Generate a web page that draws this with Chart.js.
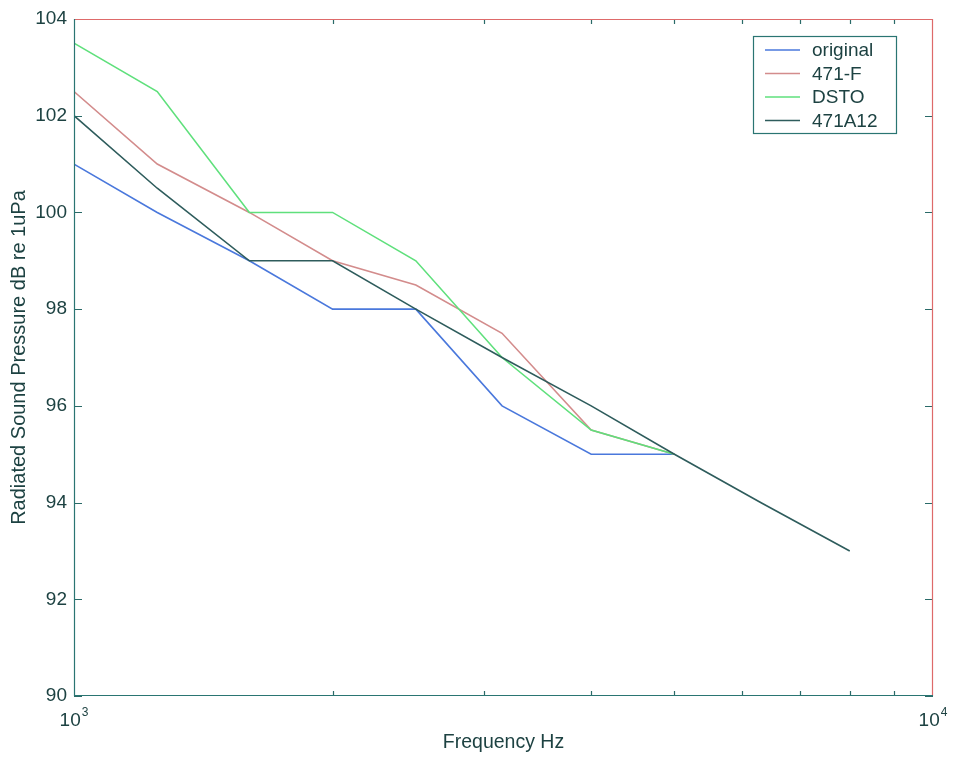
<!DOCTYPE html>
<html>
<head>
<meta charset="utf-8">
<script src="https://cdn.jsdelivr.net/npm/chart.js@4/dist/chart.umd.min.js"></script>
<style>
  html, body { margin: 0; padding: 0; background: #fff; }
  #wrap { width: 953px; height: 758px; }
</style>
</head>
<body>
<div id="wrap"><canvas id="chart" width="953" height="758"></canvas></div>
<script>
// 1/3 octave band centres (Hz)
const freqs = [1000, 1250, 1600, 2000, 2500, 3150, 4000, 5000, 6300, 8000];

// radiated sound pressure, dB re 1uPa
const original = [101, 100, 99, 98, 98, 96, 95, 95];
const f471 = [102.5, 101, 100, 99, 98.5, 97.5, 95.5, 95];
const dsto = [103.5, 102.5, 100, 100, 99, 97, 95.5, 95];
const a471 = [102, 100.5, 99, 99, 98, 97, 96, 95, 94, 93];

const seriesNames = ["original", "471-F", "DSTO", "471A12"];
const seriesColors = ["#4a78dc", "#d38c8c", "#5fe07c", "#2e5c5c"];

// tick labels
const xTickValues = [1000, 10000];
const xTickBase = ["10", "10"];
const xTickExp = ["3", "4"];
const xMinorTicks = [2000, 3000, 4000, 5000, 6000, 7000, 8000, 9000];

const FONT = '"Liberation Sans", Arial, Helvetica, sans-serif';
const TEXT = "#1d4242";

const toPoints = (vals) => vals.map((v, i) => ({ x: freqs[i], y: v }));

const allSeries = [original, f471, dsto, a471];
const datasets = allSeries.map((vals, i) => ({
    label: seriesNames[i],
    data: toPoints(vals),
    borderColor: seriesColors[i],
    borderWidth: 1.6,
    pointRadius: 0,
    tension: 0,
    fill: false,
    order: allSeries.length - i   // last one drawn on top, like matlab
}));

/**
 * frame round the axes + inward ticks + x labels with exponents
 */
const framePlugin = {
    id: "frame",
    afterDatasetsDraw(chart) {
        const { ctx, chartArea: a, scales } = chart;
        const x = scales.x, y = scales.y;
        ctx.save();
        ctx.lineWidth = 1.2;

        // y ticks, both sides, pointing in
        ctx.strokeStyle = "#2a6a68";
        ctx.beginPath();
        y.ticks.forEach((t) => {
            const py = Math.round(y.getPixelForValue(t.value)) + 0.5;
            ctx.moveTo(a.left, py);
            ctx.lineTo(a.left + 8, py);
            ctx.moveTo(a.right, py);
            ctx.lineTo(a.right - 8, py);
        });
        // x minor ticks, top and bottom
        xMinorTicks.forEach((v) => {
            const px = Math.round(x.getPixelForValue(v)) + 0.5;
            ctx.moveTo(px, a.bottom);
            ctx.lineTo(px, a.bottom - 5);
            ctx.moveTo(px, a.top);
            ctx.lineTo(px, a.top + 5);
        });
        ctx.stroke();

        // top + right
        ctx.strokeStyle = "#de6a6a";
        ctx.beginPath();
        ctx.moveTo(a.left, a.top + 0.5);
        ctx.lineTo(a.right - 0.5, a.top + 0.5);
        ctx.lineTo(a.right - 0.5, a.bottom);
        ctx.stroke();

        // left + bottom
        ctx.strokeStyle = "#2a7572";
        ctx.beginPath();
        ctx.moveTo(a.left + 0.5, a.top);
        ctx.lineTo(a.left + 0.5, a.bottom - 0.5);
        ctx.lineTo(a.right, a.bottom - 0.5);
        ctx.stroke();

        // x labels 10^3 / 10^4
        ctx.fillStyle = TEXT;
        ctx.textBaseline = "alphabetic";
        ctx.textAlign = "left";
        xTickValues.forEach((v, i) => {
            ctx.font = "19px " + FONT;
            const wb = ctx.measureText(xTickBase[i]).width;
            ctx.font = "12px " + FONT;
            const we = ctx.measureText(xTickExp[i]).width;
            const px = x.getPixelForValue(v);
            const left = px - (wb + we + 1) / 2;
            ctx.font = "19px " + FONT;
            ctx.fillText(xTickBase[i], left, a.bottom + 30);
            ctx.font = "12px " + FONT;
            ctx.fillText(xTickExp[i], left + wb + 1, a.bottom + 20);
        });
        ctx.restore();
    }
};

/**
 * legend box in the upper right corner
 */
const legendPlugin = {
    id: "boxLegend",
    afterDraw(chart) {
        const { ctx } = chart;
        const bx = 753, by = 36, bw = 143, bh = 97;
        ctx.save();
        ctx.fillStyle = "#fff";
        ctx.fillRect(bx, by, bw, bh);
        ctx.lineWidth = 1.2;
        ctx.strokeStyle = "#2a7572";
        ctx.strokeRect(bx + 0.5, by + 0.5, bw, bh);
        ctx.font = "19px " + FONT;
        ctx.textBaseline = "middle";
        ctx.textAlign = "left";
        chart.data.datasets.forEach((ds, i) => {
            const ry = by + 14 + i * 23.5;
            ctx.strokeStyle = ds.borderColor;
            ctx.lineWidth = 1.6;
            ctx.beginPath();
            ctx.moveTo(765, ry);
            ctx.lineTo(800, ry);
            ctx.stroke();
            ctx.fillStyle = TEXT;
            ctx.fillText(ds.label, 812, ry + 1);
        });
        ctx.restore();
    }
};

const chart = new Chart(document.getElementById("chart"), {
    type: "line",
    data: { datasets: datasets },
    options: {
        responsive: false,
        animation: false,
        events: [],
        layout: { padding: { top: 19, right: 20, left: 0, bottom: 0 } },
        plugins: {
            legend: { display: false },
            tooltip: { enabled: false }
        },
        scales: {
            x: {
                type: "logarithmic",
                min: 1000,
                max: 10000,
                grid: { display: false, drawTicks: false },
                border: { display: false },
                ticks: { display: false },
                title: {
                    display: true,
                    text: "Frequency Hz",
                    color: TEXT,
                    font: { family: FONT, size: 19.5 },
                    padding: { top: 0, bottom: 4 }
                },
                afterFit: (s) => { s.height = 62; }
            },
            y: {
                min: 90,
                max: 104,
                grid: { display: false, drawTicks: false },
                border: { display: false },
                ticks: {
                    stepSize: 2,
                    padding: 7,
                    color: TEXT,
                    font: { family: FONT, size: 19 }
                },
                title: {
                    display: true,
                    text: "Radiated Sound Pressure dB re 1uPa",
                    color: TEXT,
                    font: { family: FONT, size: 20 },
                    padding: { top: 7, bottom: 0 }
                },
                afterFit: (s) => { s.width = 74; }
            }
        }
    },
    plugins: [framePlugin, legendPlugin]
});
</script>
</body>
</html>
